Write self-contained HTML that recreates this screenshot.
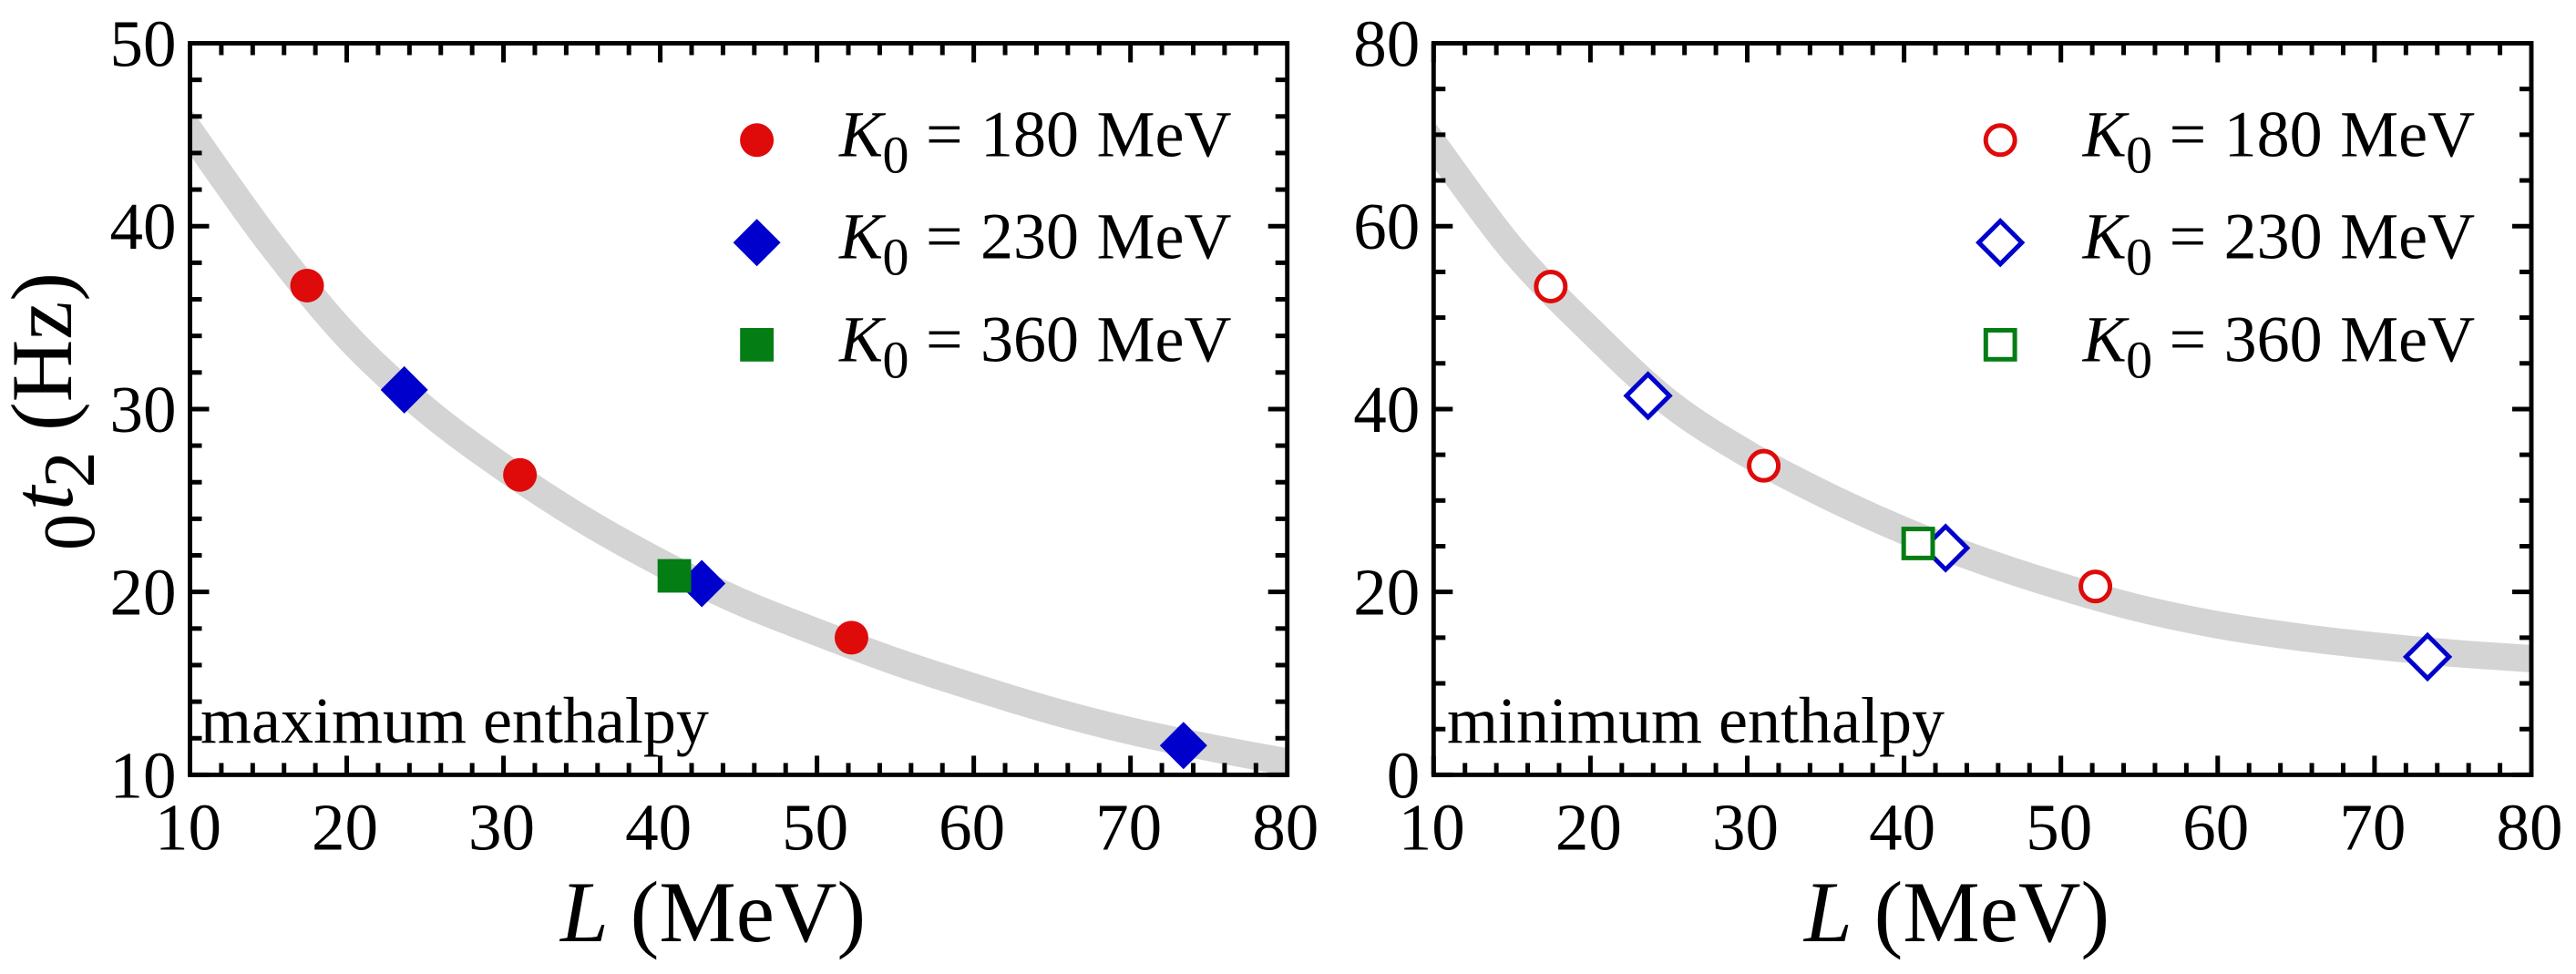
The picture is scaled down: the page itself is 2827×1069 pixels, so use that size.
<!DOCTYPE html>
<html lang="en">
<head>
<meta charset="utf-8">
<title>Two-panel chart of 0t2 versus L</title>
<style>
html,body{margin:0;padding:0;background:#fff;}
svg{display:block;}
text{font-family:"Liberation Serif",serif;fill:#000;}
</style>
</head>
<body>
<svg id="chart" xmlns="http://www.w3.org/2000/svg" width="2827" height="1069" viewBox="0 0 2827 1069">
<defs>
<clipPath id="clip-left"><rect x="208.5" y="47.5" width="1204.2" height="803"/></clipPath>
<clipPath id="clip-right"><rect x="1573.3" y="47.5" width="1204.7" height="803"/></clipPath>
</defs>
<g id="panel-left"></g>
<g id="panel-right"></g>

<g transform="rotate(-90)">
<text y="103" x="-604" font-size="80">0</text>
<text y="79" x="-560" font-size="95" font-style="italic">t</text>
<text y="103" x="-535.5" font-size="80">2</text>
<text y="78" x="-473" font-size="95">(Hz)</text>
</g>

<text x="615" y="1033" font-size="95"><tspan font-style="italic">L</tspan> (MeV)</text>
<text x="1980" y="1033" font-size="95"><tspan font-style="italic">L</tspan> (MeV)</text>

<text x="220" y="815" font-size="72">maximum enthalpy</text>
<text x="1588" y="815" font-size="72">minimum enthalpy</text>

<g>
<g>
<circle cx="830.6" cy="153.8" r="18.5" fill="#df0a0a"/>
<text y="171.7" font-size="72"><tspan x="921" font-style="italic">K</tspan><tspan x="968.5" y="189.3" font-size="58">0</tspan><tspan x="1016" y="171.7">=</tspan><tspan x="1076">180</tspan><tspan x="1203.5">MeV</tspan></text>
</g>
<g>
<polygon points="804.6,266.2 830.6,240.2 856.6,266.2 830.6,292.2" fill="#0000cd"/>
<text y="283.7" font-size="72"><tspan x="921" font-style="italic">K</tspan><tspan x="968.5" y="301.3" font-size="58">0</tspan><tspan x="1016" y="283.7">=</tspan><tspan x="1076">230</tspan><tspan x="1203.5">MeV</tspan></text>
</g>
<g>
<rect x="812.2" y="360" width="36.8" height="36.8" fill="#047d14"/>
<text y="396.7" font-size="72"><tspan x="921" font-style="italic">K</tspan><tspan x="968.5" y="414.3" font-size="58">0</tspan><tspan x="1016" y="396.7">=</tspan><tspan x="1076">360</tspan><tspan x="1203.5">MeV</tspan></text>
</g>
</g>

<g transform="translate(1364.6,0)">
<g>
<circle cx="830.6" cy="153.8" r="16" fill="#fff" stroke="#df0a0a" stroke-width="5"/>
<text y="171.7" font-size="72"><tspan x="921" font-style="italic">K</tspan><tspan x="968.5" y="189.3" font-size="58">0</tspan><tspan x="1016" y="171.7">=</tspan><tspan x="1076">180</tspan><tspan x="1203.5">MeV</tspan></text>
</g>
<g>
<polygon points="807,266.2 830.6,242.6 854.2,266.2 830.6,289.8" fill="#fff" stroke="#0000cd" stroke-width="5"/>
<text y="283.7" font-size="72"><tspan x="921" font-style="italic">K</tspan><tspan x="968.5" y="301.3" font-size="58">0</tspan><tspan x="1016" y="283.7">=</tspan><tspan x="1076">230</tspan><tspan x="1203.5">MeV</tspan></text>
</g>
<g>
<rect x="814.7" y="362.5" width="31.8" height="31.8" fill="#fff" stroke="#047d14" stroke-width="5"/>
<text y="396.7" font-size="72"><tspan x="921" font-style="italic">K</tspan><tspan x="968.5" y="414.3" font-size="58">0</tspan><tspan x="1016" y="396.7">=</tspan><tspan x="1076">360</tspan><tspan x="1203.5">MeV</tspan></text>
</g>
</g>
</svg>

<script>
// Shared x axis
const xTickLabels = [10, 20, 30, 40, 50, 60, 70, 80];
const bandL = [10, 15, 20, 25, 30, 35, 40, 45, 50, 55, 60, 65, 70, 75, 80];

// Symbol abscissae (MeV)
const pointsL180 = [17.47, 31.05, 52.2];
const pointsL230 = [23.67, 42.65, 73.38];
const pointsL360 = [40.9];

// Left panel: maximum enthalpy
const maxYTickLabels = [10, 20, 30, 40, 50];
const maxBand = [45.2, 39.2, 34.0, 30.0, 26.8, 24.0, 21.6, 19.5, 17.8, 16.2, 14.8, 13.5, 12.4, 11.5, 10.7];
const maxK180 = [36.75, 26.4, 17.5];
const maxK230 = [31.05, 20.46, 11.6];
const maxK360 = [20.88];

// Right panel: minimum enthalpy
const minYTickLabels = [0, 20, 40, 60, 80];
const minBand = [69.0, 57.5, 48.6, 40.7, 35.1, 30.6, 26.7, 23.4, 20.6, 18.2, 16.4, 15.1, 14.1, 13.3, 12.7];
const minK180 = [53.4, 33.8, 20.6];
const minK230 = [41.45, 24.8, 12.9];
const minK360 = [25.3];

const SVG_NS = 'http://www.w3.org/2000/svg';
const PLOT_TOP = 47.5, PLOT_BOTTOM = 850.4;
const RED = '#df0a0a', BLUE = '#0000cd', GREEN = '#047d14';

function make(tag, attrs, parent) {
  const el = document.createElementNS(SVG_NS, tag);
  for (const k in attrs) el.setAttribute(k, attrs[k]);
  parent.appendChild(el);
  return el;
}

function smoothPath(px) {
  let d = 'M' + px[0][0] + ' ' + px[0][1];
  for (let i = 0; i < px.length - 1; i++) {
    const p0 = px[Math.max(i - 1, 0)], p1 = px[i], p2 = px[i + 1], p3 = px[Math.min(i + 2, px.length - 1)];
    d += ' C' + (p1[0] + (p2[0] - p0[0]) / 6) + ' ' + (p1[1] + (p2[1] - p0[1]) / 6) +
         ' ' + (p2[0] - (p3[0] - p1[0]) / 6) + ' ' + (p2[1] - (p3[1] - p1[1]) / 6) +
         ' ' + p2[0] + ' ' + p2[1];
  }
  return d;
}

function drawPanel(cfg) {
  const g = document.getElementById(cfg.id);
  const left = cfg.left, right = cfg.right;
  const xMin = xTickLabels[0], xMax = xTickLabels[xTickLabels.length - 1];
  const yMin = cfg.yTicks[0], yMax = cfg.yTicks[cfg.yTicks.length - 1];
  const xs = v => left + (v - xMin) / (xMax - xMin) * (right - left);
  const ys = v => PLOT_BOTTOM - (v - yMin) / (yMax - yMin) * (PLOT_BOTTOM - PLOT_TOP);

  // Grey band (square caps carry the stroke past the clip edge)
  const bandClip = make('g', { 'clip-path': 'url(#' + cfg.clip + ')' }, g);
  
  
  const band = make('path', {
    d: smoothPath(bandL.map((l, i) => [xs(l), ys(cfg.band[i])])),
    fill: 'none', stroke: '#d4d4d4', 'stroke-width': 30, 'stroke-linecap': 'square'
  }, bandClip);
  
  

  // X ticks, top and bottom
  for (let i = 0; i < xTickLabels.length - 1; i++) {
    const step = (xTickLabels[i + 1] - xTickLabels[i]) / 5;
    for (let j = 0; j < 5; j++) {
      const len = j === 0 ? 21 : 13;
      const x = xs(xTickLabels[i] + step * j);
      const tickB = make('line', { x1: x, x2: x, y1: PLOT_BOTTOM, y2: PLOT_BOTTOM - len, stroke: '#000', 'stroke-width': 5 }, g);
      
      
      const tickT = make('line', { x1: x, x2: x, y1: PLOT_TOP, y2: PLOT_TOP + len, stroke: '#000', 'stroke-width': 5 }, g);
      
      
    }
  }
  // Y ticks, left and right
  for (let i = 0; i < cfg.yTicks.length - 1; i++) {
    const step = (cfg.yTicks[i + 1] - cfg.yTicks[i]) / cfg.yMinorDiv;
    for (let j = 0; j < cfg.yMinorDiv; j++) {
      const len = j === 0 ? 21 : 13;
      const y = ys(cfg.yTicks[i] + step * j);
      const tickL = make('line', { x1: left, x2: left + len, y1: y, y2: y, stroke: '#000', 'stroke-width': 5 }, g);
      
      
      const tickR = make('line', { x1: right, x2: right - len, y1: y, y2: y, stroke: '#000', 'stroke-width': 5 }, g);
      
      
    }
  }

  // Tick labels
  xTickLabels.forEach(v => {
    const t = make('text', { x: xs(v) - 2, y: 932.5, 'font-size': 73, 'text-anchor': 'middle' }, g);
    t.textContent = String(v);
    
    
  });
  cfg.yTicks.forEach(v => {
    const t = make('text', { x: left - 15, y: ys(v) + 25, 'font-size': 73, 'text-anchor': 'end' }, g);
    t.textContent = String(v);
    
    
  });

  const open = cfg.open;
  function circle(l, v) {
    const c = make('circle', {
      cx: xs(l), cy: ys(v), r: open ? 16 : 18.5,
      fill: open ? '#fff' : RED, stroke: open ? RED : 'none', 'stroke-width': open ? 5 : 0
    }, g);
    
    
  }
  function diamond(l, v) {
    const x = xs(l), y = ys(v), h = open ? 23.6 : 26;
    const p = make('polygon', {
      points: (x - h) + ',' + y + ' ' + x + ',' + (y - h) + ' ' + (x + h) + ',' + y + ' ' + x + ',' + (y + h),
      fill: open ? '#fff' : BLUE, stroke: open ? BLUE : 'none', 'stroke-width': open ? 5 : 0
    }, g);
    
    
  }
  function square(l, v) {
    const h = open ? 15.9 : 18.4;
    const r = make('rect', {
      x: xs(l) - h, y: ys(v) - h, width: 2 * h, height: 2 * h,
      fill: open ? '#fff' : GREEN, stroke: open ? GREEN : 'none', 'stroke-width': open ? 5 : 0
    }, g);
    
    
  }
  pointsL180.forEach((l, i) => circle(l, cfg.k180[i]));
  pointsL230.forEach((l, i) => diamond(l, cfg.k230[i]));
  pointsL360.forEach((l, i) => square(l, cfg.k360[i]));

  // Frame
  const frame = make('rect', {
    x: left, y: PLOT_TOP, width: right - left, height: PLOT_BOTTOM - PLOT_TOP,
    fill: 'none', stroke: '#000', 'stroke-width': 4.9
  }, g);
  
  
}

drawPanel({ id: 'panel-left', clip: 'clip-left', left: 208.5, right: 1412.7, yTicks: maxYTickLabels, yMinorDiv: 5,
  band: maxBand, k180: maxK180, k230: maxK230, k360: maxK360, open: false });
drawPanel({ id: 'panel-right', clip: 'clip-right', left: 1573.3, right: 2778, yTicks: minYTickLabels, yMinorDiv: 4,
  band: minBand, k180: minK180, k230: minK230, k360: minK360, open: true });
</script>
</body>
</html>
